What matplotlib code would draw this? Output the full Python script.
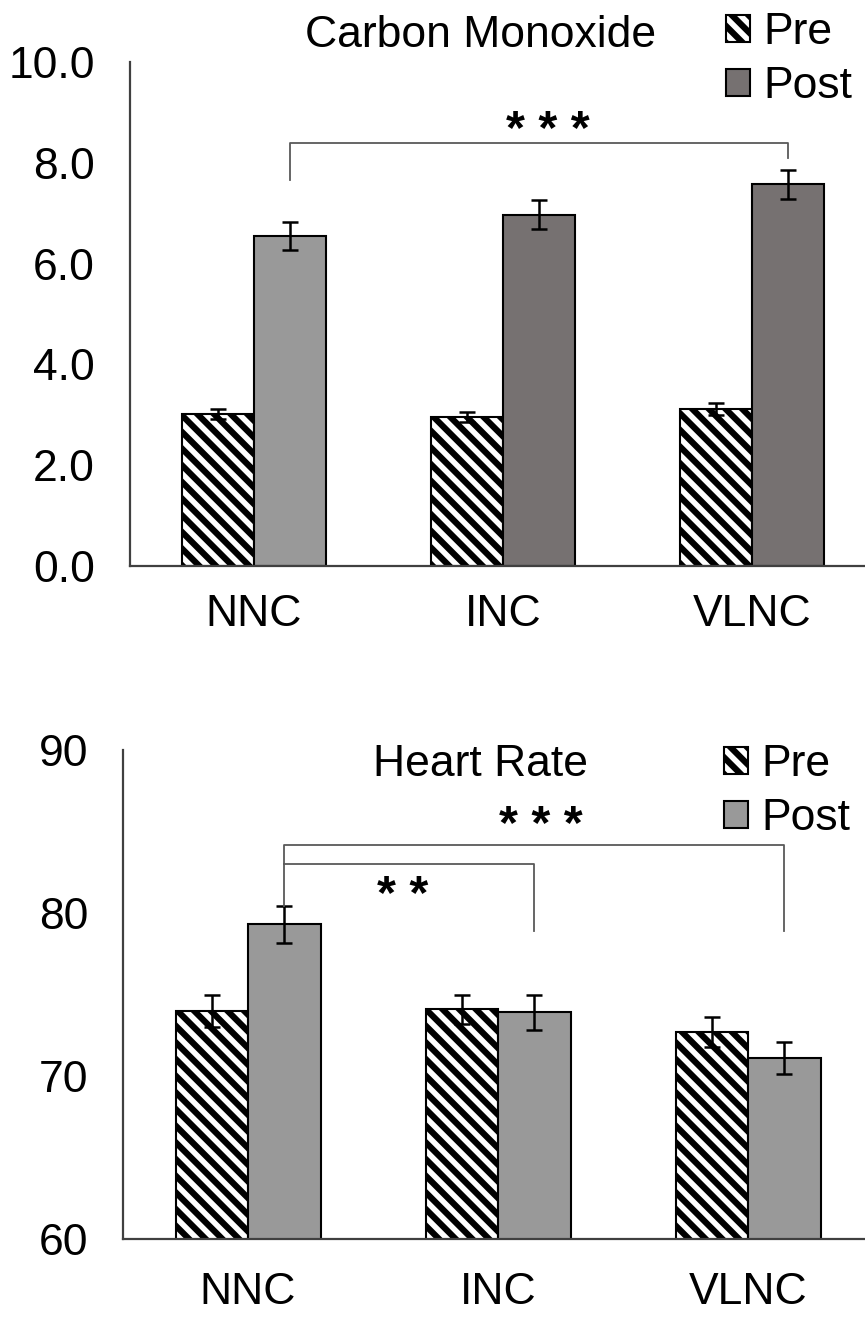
import numpy as np
import matplotlib
matplotlib.use("Agg")
import matplotlib.pyplot as plt
from matplotlib.patches import Patch

plt.rcParams['font.family'] = ['Liberation Sans', 'DejaVu Sans']
plt.rcParams['hatch.linewidth'] = 4.5
plt.rcParams['hatch.color'] = 'black'

# data
groups = ['NNC', 'INC', 'VLNC']

co_pre = [3.02, 2.95, 3.12]
co_pre_err = [0.10, 0.10, 0.12]
co_post = [6.55, 6.97, 7.57]
co_post_err = [0.28, 0.29, 0.28]
co_ticks = [0.0, 2.0, 4.0, 6.0, 8.0, 10.0]

hr_pre = [74.0, 74.1, 72.7]
hr_pre_err = [1.0, 0.9, 0.95]
hr_post = [79.3, 73.9, 71.1]
hr_post_err = [1.15, 1.05, 1.0]
hr_ticks = [60, 70, 80, 90]

light = '#999999'
dark = '#767171'
co_post_colors = [light, dark, dark]
hr_post_colors = [light, light, light]

W, H = 865, 1332
fig = plt.figure(figsize=(W / 100, H / 100), dpi=100)

x = np.arange(len(groups))
bw = 0.29
FS = 32
line_col = '#595959'


def panel(ax, pre, pre_err, post, post_err, post_colors, ticks, fmt, ylim, xpad):
    ax.bar(x - bw / 2, pre, bw, color='white', edgecolor='black', hatch='\\\\',
           linewidth=1.5, zorder=2)
    ax.bar(x + bw / 2, post, bw, color=post_colors, edgecolor='black',
           linewidth=1.5, zorder=2)
    ax.errorbar(x - bw / 2, pre, yerr=pre_err, fmt='none', ecolor='black',
                elinewidth=1.8, capsize=6, capthick=1.8, zorder=3)
    ax.errorbar(x + bw / 2, post, yerr=post_err, fmt='none', ecolor='black',
                elinewidth=1.8, capsize=6, capthick=1.8, zorder=3)
    ax.set_xlim(-0.5, 2.5)
    ax.set_ylim(*ylim)
    ax.set_yticks(ticks)
    ax.set_yticklabels([fmt.format(t) for t in ticks], fontsize=FS)
    ax.set_xticks(x)
    ax.set_xticklabels(groups, fontsize=FS)
    ax.tick_params(axis='y', length=0, pad=25)
    ax.tick_params(axis='x', length=0, pad=xpad)
    for s in ['top', 'right']:
        ax.spines[s].set_visible(False)
    for s in ['left', 'bottom']:
        ax.spines[s].set_color('#404040')
        ax.spines[s].set_linewidth(1.6)


def bracket(ax, x0, x1, y, y0, y1):
    ax.plot([x0, x0, x1, x1], [y0, y, y, y1], color=line_col, lw=1.3,
            clip_on=False, zorder=4)


def stars(ax, xs, ys, s):
    ax.text(xs, ys, s, fontsize=35, fontweight='bold', ha='center', va='center')


# top panel: carbon monoxide
ax1 = fig.add_axes([129.5 / W, 1 - 566 / H, 747 / W, 504 / H])
panel(ax1, co_pre, co_pre_err, co_post, co_post_err, co_post_colors,
      co_ticks, '{:.1f}', (0, 10), 20)
ax1.text(0.91, 10.52, 'Carbon Monoxide', fontsize=FS, ha='center', va='center',
         clip_on=False)
bracket(ax1, bw / 2, 2 + bw / 2, 8.4, 7.65, 8.1)
stars(ax1, 1.18, 8.62, '* * *')
h1 = [Patch(facecolor='white', edgecolor='black', hatch='\\\\', linewidth=1.5),
      Patch(facecolor=dark, edgecolor='black', linewidth=1.5)]
ax1.legend(h1, ['Pre', 'Post'], loc='upper left',
           bbox_to_anchor=(726 / W, 1 - 12 / H), bbox_transform=fig.transFigure,
           frameon=False, fontsize=FS, handlelength=0.55, handleheight=0.55,
           handletextpad=0.3, labelspacing=0.3, borderpad=0, borderaxespad=0)

# bottom panel: heart rate
ax2 = fig.add_axes([123 / W, 1 - 1239 / H, 750 / W, 489 / H])
panel(ax2, hr_pre, hr_pre_err, hr_post, hr_post_err, hr_post_colors,
      hr_ticks, '{:d}', (60, 90), 24)
ax2.text(0.93, 89.1, 'Heart Rate', fontsize=FS, ha='center', va='center')
bracket(ax2, bw / 2, 2 + bw / 2, 84.2, 80.4, 78.9)
bracket(ax2, bw / 2, 1 + bw / 2, 83.0, 83.0, 78.9)
stars(ax2, 1.17, 85.3, '* * *')
stars(ax2, 0.62, 81.0, '* *')
h2 = [Patch(facecolor='white', edgecolor='black', hatch='\\\\', linewidth=1.5),
      Patch(facecolor=light, edgecolor='black', linewidth=1.5)]
ax2.legend(h2, ['Pre', 'Post'], loc='upper left',
           bbox_to_anchor=(724 / W, 1 - 744 / H), bbox_transform=fig.transFigure,
           frameon=False, fontsize=FS, handlelength=0.55, handleheight=0.55,
           handletextpad=0.3, labelspacing=0.3, borderpad=0, borderaxespad=0)

fig.savefig('out.png', dpi=100)
